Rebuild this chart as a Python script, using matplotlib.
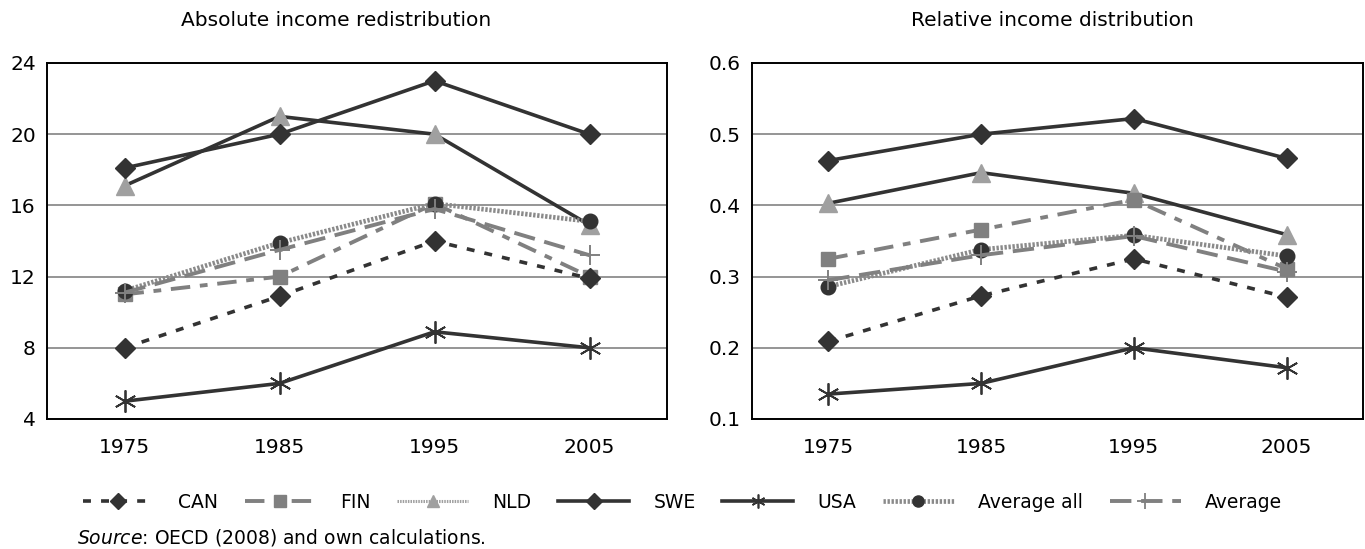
import matplotlib
matplotlib.use('Agg')
import matplotlib.pyplot as plt
from matplotlib.lines import Line2D

plt.rcParams['font.family'] = ['DejaVu Sans']
plt.rcParams['mathtext.fontset'] = 'dejavusans'

years = ['1975', '1985', '1995', '2005']

# absolute income redistribution
abs_can = [8.0, 10.9, 14.0, 11.9]
abs_fin = [11.0, 12.0, 16.1, 12.0]
abs_nld = [17.1, 21.0, 20.0, 14.9]
abs_swe = [18.1, 20.0, 23.0, 20.0]
abs_usa = [5.0, 6.0, 8.9, 8.0]
abs_avg_all = [11.2, 13.9, 16.1, 15.1]
abs_avg = [11.1, 13.5, 15.8, 13.2]

# relative income distribution
rel_can = [0.209, 0.273, 0.325, 0.271]
rel_fin = [0.325, 0.366, 0.408, 0.311]
rel_nld = [0.403, 0.446, 0.417, 0.359]
rel_swe = [0.463, 0.500, 0.522, 0.466]
rel_usa = [0.135, 0.150, 0.200, 0.172]
rel_avg_all = [0.286, 0.338, 0.358, 0.329]
rel_avg = [0.295, 0.330, 0.357, 0.307]

DARK = '#333333'
GRAY = '#808080'
LGRAY = '#a0a0a0'
HATCH = (0.5, 0.35)   # fine dotted look of the "Average all" line

fig = plt.figure(figsize=(13.65, 5.49), dpi=100)
ax1 = fig.add_axes([47/1365, 130/549, 620/1365, 356/549])
ax2 = fig.add_axes([752/1365, 130/549, 611/1365, 356/549])

def draw(ax, can, fin, nld, swe, usa, avg_all, avg):
    x = range(len(years))
    ax.plot(x, swe, color=DARK, lw=2.6, marker='D', ms=10.5, mfc=DARK, mec=DARK, zorder=5)
    ax.plot(x, nld, color=DARK, lw=2.6, marker='^', ms=12.5, mfc=LGRAY, mec=LGRAY, zorder=4)
    ax.plot(x, usa, color=DARK, lw=2.6, marker=(6, 2, 0), ms=16, mew=1.3, mec=DARK, zorder=5)
    ax.plot(x, can, color=DARK, lw=2.6, dashes=(2.2, 2.8), marker='D', ms=10.5,
            mfc=DARK, mec=DARK, zorder=5)
    ax.plot(x, fin, color=GRAY, lw=2.8, dashes=(5, 2.5, 2, 2.5), marker='s', ms=10.5,
            mfc=GRAY, mec=GRAY, zorder=4)
    ax.plot(x, avg_all, color='#8a8a8a', lw=3.4, dashes=HATCH, marker='o', ms=10.5,
            mfc=DARK, mec=DARK, zorder=6)
    ax.plot(x, avg, color=GRAY, lw=2.8, dashes=(5.5, 2.5), marker='+', ms=15, mew=1.4,
            mec=GRAY, zorder=6)
    ax.set_xlim(-0.5, 3.5)
    ax.set_xticks(list(x))
    ax.set_xticklabels(years)
    ax.yaxis.grid(True, color='#8c8c8c', lw=1.3)
    ax.set_axisbelow(True)
    ax.tick_params(length=0, labelsize=14.5, pad=14)
    ax.tick_params(axis='y', pad=8)
    for s in ax.spines.values():
        s.set_linewidth(1.4)
        s.set_color('black')

draw(ax1, abs_can, abs_fin, abs_nld, abs_swe, abs_usa, abs_avg_all, abs_avg)
ax1.set_ylim(4, 24)
ax1.set_yticks([4, 8, 12, 16, 20, 24])

draw(ax2, rel_can, rel_fin, rel_nld, rel_swe, rel_usa, rel_avg_all, rel_avg)
ax2.set_ylim(0.1, 0.6)
ax2.set_yticks([0.1, 0.2, 0.3, 0.4, 0.5, 0.6])
ax2.set_yticklabels(['0.1', '0.2', '0.3', '0.4', '0.5', '0.6'])

fig.text(336/1365, 1 - 20/549, 'Absolute income redistribution', ha='center', va='center', fontsize=14.5)
fig.text(1052/1365, 1 - 20/549, 'Relative income distribution', ha='center', va='center', fontsize=14.5)

handles = [
    Line2D([], [], color=DARK, lw=2.6, dashes=(2.2, 2.8), marker='D', ms=8, mfc=DARK, mec=DARK),
    Line2D([], [], color=GRAY, lw=2.8, dashes=(5, 2.5, 2, 2.5), marker='s', ms=8, mfc=GRAY, mec=GRAY),
    Line2D([], [], color=LGRAY, lw=2.2, dashes=HATCH, marker='^', ms=9, mfc=LGRAY, mec=LGRAY),
    Line2D([], [], color=DARK, lw=2.6, marker='D', ms=8, mfc=DARK, mec=DARK),
    Line2D([], [], color=DARK, lw=2.6, marker=(6, 2, 0), ms=10, mew=1.2, mec=DARK),
    Line2D([], [], color='#8a8a8a', lw=3.4, dashes=HATCH, marker='o', ms=8, mfc=DARK, mec=DARK),
    Line2D([], [], color=GRAY, lw=2.8, dashes=(5.5, 2.5), marker='+', ms=11, mew=1.3, mec=GRAY),
]
labels = ['CAN', 'FIN', 'NLD', 'SWE', 'USA', 'Average all', 'Average']
fig.legend(handles, labels, loc='center', bbox_to_anchor=(0.5, 1 - 502/549), ncol=7,
           frameon=False, fontsize=13.5, handlelength=3.8, handletextpad=1.3,
           columnspacing=1.4)

fig.text(77/1365, 1 - 537/549, r'$\mathit{Source}$: OECD (2008) and own calculations.',
         ha='left', va='center', fontsize=13.5)

fig.savefig('out.png', dpi=100)
